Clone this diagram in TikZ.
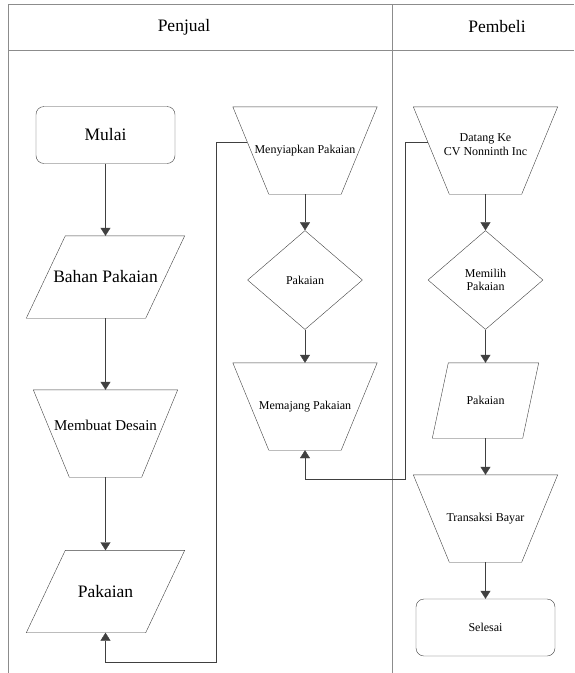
\documentclass[tikz,border=0pt]{standalone}
\usepackage{fontspec}
\setmainfont{Liberation Serif}
\usetikzlibrary{shapes.geometric,arrows.meta,calc}

\begin{document}
\begin{tikzpicture}[x=1pt, y=-1pt, font=\fontsize{12}{13.5}\selectfont]
  \tikzstyle{outline}=[draw=black!75]
  \tikzstyle{big}=[font=\fontsize{17.5}{19}\selectfont]
  \tikzstyle{mid}=[font=\fontsize{15}{17}\selectfont]
  \tikzstyle{terminal}=[rectangle, outline, rounded corners=8pt, minimum width=139pt, minimum height=57pt, align=center]
  \tikzset{
    manual/.style={rectangle, inner sep=0pt, align=center, minimum width=144pt, minimum height=87pt,
      append after command={\pgfextra{\let\lastshape\tikzlastnode
        \draw[outline] (\lastshape.north west) -- (\lastshape.north east)
          -- ([xshift=-36pt]\lastshape.south east) -- ([xshift=36pt]\lastshape.south west) -- cycle;}}},
    data/.style={rectangle, inner sep=0pt, align=center, minimum width=158pt, minimum height=82pt,
      append after command={\pgfextra{\let\lastshape\tikzlastnode
        \draw[outline] ([xshift=#1]\lastshape.north west) -- (\lastshape.north east)
          -- ([xshift=-#1]\lastshape.south east) -- (\lastshape.south west) -- cycle;}}},
    smalldata/.style={data=16pt, minimum width=106pt, minimum height=75pt}
  }
  \tikzstyle{decision}=[diamond, outline, minimum width=115pt, minimum height=99pt, inner sep=0pt, align=center]
  \tikzstyle{line}=[draw=black!75, -{Triangle[width=10pt,length=8pt]}]
  \tikzstyle{lane}=[draw=black!45, line width=0.9pt]

  \useasboundingbox (0,0) rectangle (574,673);

  % swimlanes
  \draw [lane] (8,673) -- (8,4) -- (574,4);
  \draw [lane] (8,50) -- (574,50);
  \draw [lane] (392,4) -- (392,673);
  \node [big] (penjual) at (184,27) {Penjual};
  \node [big] (pembeli) at (497,27) {Pembeli};

  % Penjual lane
  \node [terminal, big] (mulai) at (105.5,135) {Mulai};
  \node [data=39pt, big] (bahan) at (105.5,277) {Bahan Pakaian};
  \node [manual, mid] (desain) at (105.5,433.5) {Membuat Desain\\};
  \node [data=39pt, big] (pakaian1) at (105.5,591.5) {Pakaian};
  \node [manual] (siapkan) at (305,150.5) {Menyiapkan Pakaian};
  \node [decision] (pakaian2) at (305,280) {Pakaian};
  \node [manual] (pajang) at (305,406.5) {Memajang Pakaian};

  % Pembeli lane
  \node [manual] (datang) at (485.5,150.5) {Datang Ke\\CV Nonninth Inc\\[-1.5pt]};
  \node [decision] (memilih) at (485.5,280) {Memilih\\Pakaian};
  \node [smalldata] (pakaian3) at (485.5,400.5) {Pakaian};
  \node [manual] (bayar) at (485.5,518.5) {Transaksi Bayar};
  \node [terminal] (selesai) at (485.5,627.5) {Selesai};

  \coordinate (loopA) at (216,662);
  \coordinate (loopB) at (405,479);

  \draw [line] (mulai) -- (bahan);
  \draw [line] (bahan) -- (desain);
  \draw [line] (desain) -- (pakaian1);
  \draw [line] ($(siapkan.north west)!0.4!([xshift=36pt]siapkan.south west)$) -| (loopA) -| (pakaian1.south);
  \draw [line] (siapkan) -- (pakaian2);
  \draw [line] (pakaian2) -- (pajang);
  \draw [line] ($(datang.north west)!0.4!([xshift=36pt]datang.south west)$) -| (loopB) -| (pajang.south);
  \draw [line] (datang) -- (memilih);
  \draw [line] (memilih) -- (pakaian3);
  \draw [line] (pakaian3) -- (bayar);
  \draw [line] (bayar) -- (selesai);
\end{tikzpicture}
\end{document}
